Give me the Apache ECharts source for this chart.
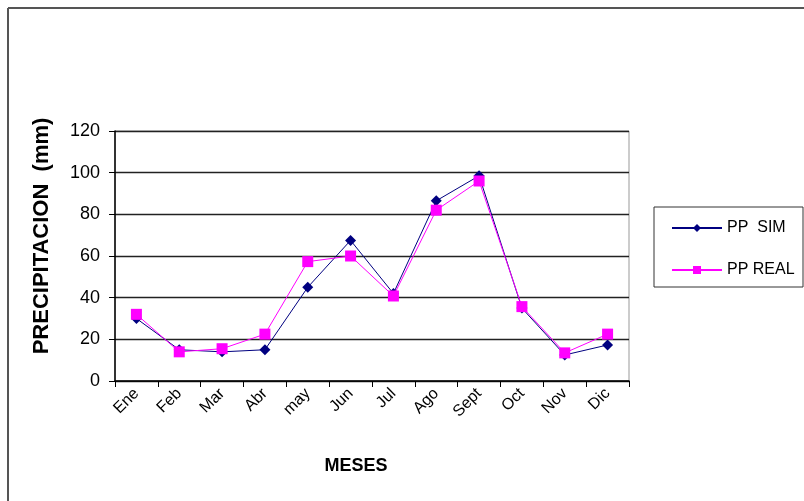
<!DOCTYPE html>
<html>
<head>
<meta charset="utf-8">
<script src="https://cdn.jsdelivr.net/npm/echarts@6/dist/echarts.min.js"></script>
<style>html,body{margin:0;padding:0;background:#fff}#c{width:804px;height:501px}</style>
</head>
<body>
<div id="c"></div>
<script>
const months = ['Ene','Feb','Mar','Abr','may','Jun','Jul','Ago','Sept','Oct','Nov','Dic'];
const ppSim  = [30, 15, 14, 15, 45, 67.5, 42, 86.5, 98.5, 35, 12.5, 17.3];
const ppReal = [32, 14, 15.5, 22.5, 57.3, 60, 40.8, 82, 96, 35.7, 13.5, 22.5];
const yTicks = [0, 20, 40, 60, 80, 100, 120];

const chart = echarts.init(document.getElementById('c'), null, {renderer:'canvas'});
const font = 'Arial, "Liberation Sans", sans-serif';
chart.setOption({
  animation: false,
  backgroundColor: '#fff',
  grid: {left: 115, right: 175, top: 131, bottom: 120, show: true, borderColor: '#999', borderWidth: 1},
  graphic: [
    {type:'line', shape:{x1:8, y1:8, x2:804, y2:8}, style:{stroke:'#555', lineWidth:2}},
    {type:'line', shape:{x1:8, y1:8, x2:8, y2:501}, style:{stroke:'#555', lineWidth:2}},
    {type:'rect', shape:{x:654, y:207, width:149, height:80}, style:{fill:'none', stroke:'#333', lineWidth:1}}
  ],
  legend: {
    orient: 'vertical', left: 666, top: 215, itemGap: 26,
    itemWidth: 50, itemHeight: 10,
    textStyle: {fontFamily: font, fontSize: 16, color: '#000'},
    data: [{name:'PP  SIM'}, {name:'PP REAL'}]
  },
  xAxis: {
    type: 'category', data: months, boundaryGap: true,
    name: 'MESES', nameLocation: 'middle', nameGap: 76,
    nameTextStyle: {fontFamily: font, fontSize: 18, fontWeight: 'bold', color: '#000', padding:[0,32,0,0]},
    axisLine: {lineStyle: {color: '#000', width: 1.5}},
    axisTick: {show: true, length: 6, inside: false, alignWithLabel: false, lineStyle:{color:'#000'}},
    axisLabel: {rotate: 45, fontFamily: font, fontSize: 16, color: '#000', margin: 10}
  },
  yAxis: {
    type: 'value', min: 0, max: 120, interval: 20,
    name: 'PRECIPITACION  (mm)', nameLocation: 'middle', nameGap: 62,
    nameTextStyle: {fontFamily: font, fontSize: 22, fontWeight: 'bold', color: '#000', padding:[0,0,0,40]},
    axisLine: {show: true, lineStyle: {color: '#000', width: 1.5}},
    axisTick: {show: true, length: 6, lineStyle:{color:'#000'}},
    axisLabel: {fontFamily: font, fontSize: 18, color: '#000', margin: 15,
      formatter: v => yTicks.includes(v) ? String(v) : ''},
    splitLine: {show: true, lineStyle: {color: '#222', width: 1.3}}
  },
  series: [
    {name: 'PP  SIM', type: 'line', data: ppSim, symbol: 'diamond', symbolSize: 11,
     lineStyle: {color: '#000080', width: 1}, itemStyle: {color: '#000080'}, z: 2},
    {name: 'PP REAL', type: 'line', data: ppReal, symbol: 'rect', symbolSize: 11,
     lineStyle: {color: '#FF00FF', width: 1}, itemStyle: {color: '#FF00FF'}, z: 3}
  ]
});
</script>
</body>
</html>
